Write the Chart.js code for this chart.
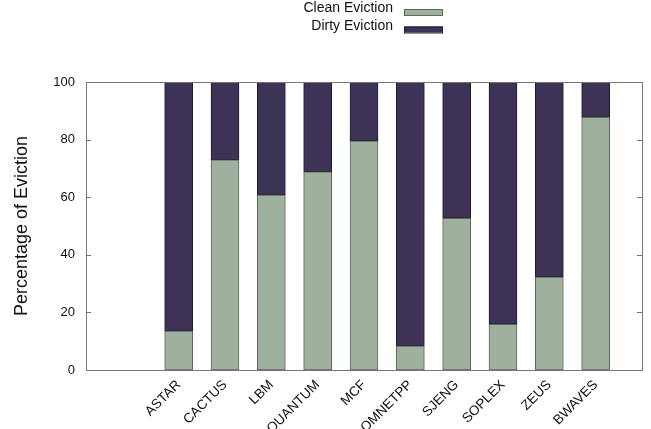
<!DOCTYPE html>
<html>

<head>
  <meta charset="UTF-8">
  <title>Eviction</title>
  <script src="https://cdn.jsdelivr.net/npm/chart.js"></script>
  <style>
    html, body {
      margin: 0;
      padding: 0;
      background: white;
    }

    #wrap {
      width: 651px;
      height: 429px;
    }
  </style>
</head>

<body>
  <div id="wrap">
    <canvas id="evictionChart" width="651" height="429"></canvas>
  </div>

  <script>
    const benchmarks = ['ASTAR', 'CACTUS', 'LBM', 'QUANTUM', 'MCF', 'OMNETPP', 'SJENG', 'SOPLEX', 'ZEUS', 'BWAVES'];
    const cleanEviction = [13.5, 73.0, 60.7, 68.8, 79.5, 8.3, 52.7, 15.9, 32.3, 87.7];
    const dirtyEviction = [86.5, 27.0, 39.3, 31.2, 20.5, 91.7, 47.3, 84.1, 67.7, 12.3];
    const yTicks = [0, 20, 40, 60, 80, 100];

    const FONT = 'Liberation Sans, Arial, Helvetica, sans-serif';

    // two empty slots on the left and one on the right, like the gnuplot xrange
    const xLabels = ['', '', ...benchmarks, ''];
    const pad = (arr) => [null, null, ...arr, null];

    // gnuplot style frame with inward ticks on both y sides
    const framePlugin = {
      id: 'frame',
      afterDatasetsDraw(chart) {
        const { ctx, chartArea: a } = chart;
        const y = chart.scales.y;
        ctx.save();
        ctx.strokeStyle = '#777';
        ctx.lineWidth = 1;
        ctx.strokeRect(Math.round(a.left) + 0.5, Math.round(a.top) + 0.5,
          Math.round(a.right - a.left), Math.round(a.bottom - a.top));
        ctx.beginPath();
        yTicks.forEach(v => {
          const py = Math.round(y.getPixelForValue(v)) + 0.5;
          ctx.moveTo(a.left, py);
          ctx.lineTo(a.left + 5, py);
          ctx.moveTo(a.right - 5, py);
          ctx.lineTo(a.right, py);
        });
        ctx.stroke();
        ctx.restore();
      }
    };

    // key at the top: label first, then the sample box
    const keyPlugin = {
      id: 'key',
      afterDraw(chart) {
        const { ctx } = chart;
        ctx.save();
        ctx.font = '14px ' + FONT;
        ctx.textAlign = 'right';
        ctx.textBaseline = 'alphabetic';
        chart.data.datasets.forEach((ds, i) => {
          const base = 12 + i * 17.5;
          ctx.fillStyle = '#111';
          ctx.fillText(ds.label, 393, base);
          ctx.fillStyle = ds.backgroundColor;
          ctx.fillRect(404, base - 3, 39, 6);
          ctx.strokeStyle = ds.borderColor;
          ctx.lineWidth = 1;
          ctx.strokeRect(404.5, base - 2.5, 38, 6);
        });
        ctx.restore();
      }
    };

    const ctx = document.getElementById('evictionChart').getContext('2d');
    new Chart(ctx, {
      type: 'bar',
      data: {
        labels: xLabels,
        datasets: [{
          label: 'Clean Eviction',
          data: pad(cleanEviction),
          backgroundColor: '#9fb09f',
          borderColor: '#5e665e',
          borderWidth: 1,
          borderSkipped: false,
          barThickness: 28
        }, {
          label: 'Dirty Eviction',
          data: pad(dirtyEviction),
          backgroundColor: '#3c3356',
          borderColor: '#1e1a2c',
          borderWidth: 1,
          borderSkipped: false,
          barThickness: 28
        }]
      },
      options: {
        responsive: false,
        animation: false,
        layout: {
          padding: { top: 82, right: 9, bottom: 0, left: 0 }
        },
        plugins: {
          legend: { display: false },
          tooltip: { enabled: false }
        },
        scales: {
          x: {
            stacked: true,
            offset: false,
            grid: { display: false, drawTicks: false },
            border: { display: false },
            afterFit: (scale) => {
              scale.height = 59;
              scale.paddingLeft = 0;
              scale.paddingRight = 0;
            },
            ticks: {
              autoSkip: false,
              maxRotation: 45,
              minRotation: 45,
              padding: 7,
              color: '#111',
              font: { family: FONT, size: 13.5 }
            }
          },
          y: {
            stacked: true,
            min: 0,
            max: 100,
            grid: { display: false, drawTicks: false },
            border: { display: false },
            afterFit: (scale) => { scale.width = 86; },
            afterBuildTicks: (scale) => {
              scale.ticks = yTicks.map(v => ({ value: v }));
            },
            ticks: {
              padding: 11,
              color: '#111',
              font: { family: FONT, size: 13 }
            },
            title: {
              display: true,
              text: 'Percentage of Eviction',
              color: '#111',
              padding: { top: 11, bottom: 0 },
              font: { family: FONT, size: 18 }
            }
          }
        }
      },
      plugins: [framePlugin, keyPlugin]
    });
  </script>
</body>

</html>
